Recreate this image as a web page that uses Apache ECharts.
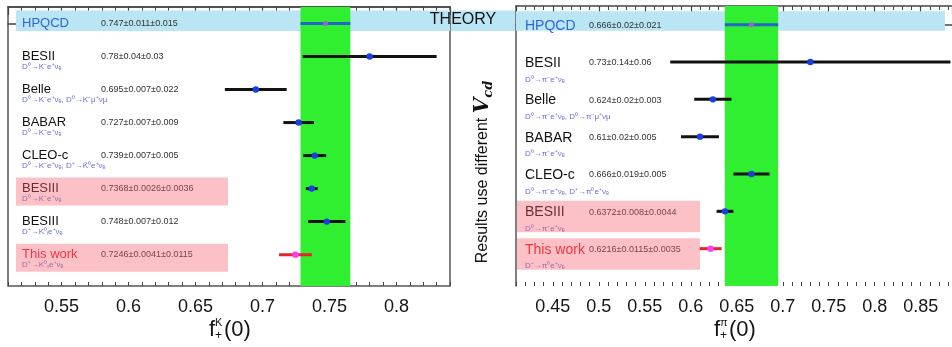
<!DOCTYPE html>
<html>
<head>
<meta charset="utf-8">
<script src="https://cdn.jsdelivr.net/npm/echarts@6/dist/echarts.min.js"></script>
<style>
  html, body { margin: 0; padding: 0; background: #fff; }
  #chart { width: 952px; height: 347px; }
</style>
</head>
<body>
<div id="chart"></div>
<script>
// f+K(0) panel
const kLabels = ['HPQCD', 'BESII', 'Belle', 'BABAR', 'CLEO-c', 'BESIII', 'BESIII', 'This work']
const kCentral = [0.747, 0.78, 0.695, 0.727, 0.739, 0.7368, 0.748, 0.7246]
const kStat = [0.011, 0.04, 0.007, 0.007, 0.007, 0.0026, 0.007, 0.0041]
const kSyst = [0.015, 0.03, 0.022, 0.009, 0.005, 0.0036, 0.012, 0.0115]
const kDecays = ['', 'D⁰→K⁻e⁺νₑ', 'D⁰→K⁻e⁺νₑ, D⁰→K⁻μ⁺νμ', 'D⁰→K⁻e⁺νₑ',
  'D⁰→K⁻e⁺νₑ, D⁺→K̄⁰e⁺νₑ', 'D⁰→K⁻e⁺νₑ', 'D⁺→K⁰ₗe⁺νₑ', 'D⁺→K⁰ₛe⁺νₑ']
const kHighlight = [5, 7]
const kRange = [0.51, 0.84]

// f+pi(0) panel
const piLabels = ['HPQCD', 'BESII', 'Belle', 'BABAR', 'CLEO-c', 'BESIII', 'This work']
const piCentral = [0.666, 0.73, 0.624, 0.61, 0.666, 0.6372, 0.6216]
const piStat = [0.02, 0.14, 0.02, 0.02, 0.019, 0.008, 0.0115]
const piSyst = [0.021, 0.06, 0.003, 0.005, 0.005, 0.0044, 0.0035]
const piDecays = ['', 'D⁰→π⁻e⁺νₑ', 'D⁰→π⁻e⁺νₑ, D⁰→π⁻μ⁺νμ', 'D⁰→π⁻e⁺νₑ',
  'D⁰→π⁻e⁺νₑ, D⁺→π⁰e⁺νₑ', 'D⁰→π⁻e⁺νₑ', 'D⁺→π⁰e⁺νₑ']
const piHighlight = [5, 6]
const piRange = [0.41, 0.884]

const FONT = '"Liberation Sans", Arial, sans-serif'
const W = 952

const panels = [
  {
    labels: kLabels, central: kCentral, stat: kStat, syst: kSyst, decays: kDecays,
    highlight: kHighlight, range: kRange, sup: 'K', yMax: 7.95, frame: true,
    grid: { left: 8, top: 7, width: 442, height: 279 },
    nameDx: 14, valueDx: 93, nameSize: 13, nameDy: 0, decayDy: 10.5,
    hlDx: 8, hlWidth: 212, hlTop: -11, hlBottom: 17,
    bandLeftPx: 8, bandRightPx: 442, bandTopPx: -13, bandBottomPx: 7.5
  },
  {
    labels: piLabels, central: piCentral, stat: piStat, syst: piSyst, decays: piDecays,
    highlight: piHighlight, range: piRange, sup: 'π', yMax: 7.0, frame: false,
    grid: { left: 516, top: 6, width: 436, height: 280 },
    nameDx: 9, valueDx: 73, nameSize: 14, nameDy: 1, decayDy: 17.5,
    hlDx: 1, hlWidth: 183, hlTop: -10.5, hlBottom: 21,
    bandLeftPx: 0, bandRightPx: 429, bandTopPx: -13.5, bandBottomPx: 6
  }
]

function totalErr(p, i) {
  return Math.sqrt(p.stat[i] * p.stat[i] + p.syst[i] * p.syst[i])
}

function xAxes(gridIndex, range) {
  const base = { type: 'value', gridIndex, min: range[0], max: range[1], splitLine: { show: false } }
  const line = { show: true, lineStyle: { color: '#444', width: 1.5 } }
  const major = { show: true, inside: true, length: 8, lineStyle: { color: '#444', width: 1.2 } }
  const minor = { show: true, inside: true, length: 4, lineStyle: { color: '#444', width: 1 } }
  return [
    { ...base, position: 'bottom', splitNumber: 7, axisLine: line, axisTick: major,
      axisLabel: { showMinLabel: false, showMaxLabel: false, margin: 12, fontSize: 18, color: '#151515', fontFamily: FONT } },
    { ...base, position: 'bottom', interval: 0.01, axisLine: { show: false }, axisTick: minor, axisLabel: { show: false } },
    { ...base, position: 'top', splitNumber: 7, axisLine: line, axisTick: major, axisLabel: { show: false } },
    { ...base, position: 'top', interval: 0.01, axisLine: { show: false }, axisTick: minor, axisLabel: { show: false } }
  ]
}

function makeRender(p) {
  return function (params, api) {
    const i = params.dataIndex
    const row = api.value(3)
    const lo = api.coord([api.value(1), row])
    const hi = api.coord([api.value(2), row])
    const c = api.coord([api.value(0), row])
    const cs = params.coordSys
    const first = i === 0
    const last = p.labels[i] === 'This work'
    const barColor = first ? '#2266c8' : last ? '#e3262c' : '#111'
    const dotColor = first ? '#9a63d6' : last ? '#ff3cf2' : '#1b3de6'
    const nameColor = first ? '#2f66d6' : last ? '#e8202c' : '#111'
    const children = [
      { type: 'text', x: cs.x + p.nameDx, y: c[1] + p.nameDy,
        style: { text: p.labels[i], fill: nameColor, font: p.nameSize + 'px ' + FONT, align: 'left', verticalAlign: 'middle' } },
      { type: 'text', x: cs.x + p.valueDx, y: c[1] + p.nameDy,
        style: { text: p.central[i] + '±' + p.stat[i] + '±' + p.syst[i], fill: '#333', font: '9px ' + FONT, align: 'left', verticalAlign: 'middle' } },
      { type: 'text', x: cs.x + p.nameDx, y: c[1] + p.decayDy,
        style: { text: p.decays[i], fill: '#6b6bd4', font: '8px ' + FONT, align: 'left', verticalAlign: 'middle' } },
      { type: 'line', shape: { x1: lo[0], y1: lo[1], x2: hi[0], y2: hi[1] }, style: { stroke: barColor, lineWidth: 3 } },
      { type: 'circle', shape: { cx: c[0], cy: c[1], r: first ? 2.5 : 3.2 }, style: { fill: dotColor } }
    ]
    if (p.highlight.includes(i)) {
      children.push({ type: 'rect',
        shape: { x: cs.x + p.hlDx, y: c[1] + p.hlTop, width: p.hlWidth, height: p.hlBottom - p.hlTop },
        style: { fill: 'rgba(246,92,104,0.38)' } })
    }
    return { type: 'group', children }
  }
}

const grids = []
const xAxis = []
const yAxis = []
const series = []
panels.forEach((p, g) => {
  grids.push({ ...p.grid, show: p.frame, borderColor: '#555', borderWidth: 1.5, backgroundColor: 'transparent' })
  xAxis.push(...xAxes(g, p.range))
  yAxis.push({
    type: 'value', gridIndex: g, min: -0.5, max: p.yMax, inverse: true, position: 'left',
    axisLine: { show: !p.frame, lineStyle: { color: '#555', width: 1.5 } },
    axisTick: { show: false }, axisLabel: { show: false }, splitLine: { show: false }
  })
  const err0 = totalErr(p, 0)
  // pixel -> data unit factors for the theory strip
  const xPx = (p.range[1] - p.range[0]) / p.grid.width
  const yPx = (p.yMax + 0.5) / p.grid.height
  series.push({
    type: 'custom',
    xAxisIndex: g * 4,
    yAxisIndex: g,
    renderItem: makeRender(p),
    data: p.labels.map((n, i) => [p.central[i], p.central[i] - totalErr(p, i), p.central[i] + totalErr(p, i), i]),
    markArea: {
      silent: true,
      data: [
        [{ xAxis: p.range[0] + p.bandLeftPx * xPx, yAxis: p.bandTopPx * yPx, itemStyle: { color: '#b9e5f5', opacity: 1 } },
         { xAxis: p.range[0] + p.bandRightPx * xPx, yAxis: p.bandBottomPx * yPx }],
        [{ xAxis: p.central[0] - err0, yAxis: -0.5, itemStyle: { color: '#30ee30', opacity: 1 } },
         { xAxis: p.central[0] + err0, yAxis: p.yMax }]
      ]
    }
  })
})

const chart = echarts.init(document.getElementById('chart'))
chart.setOption({
  animation: false,
  grid: grids,
  xAxis,
  yAxis,
  series
})

// theory strip between the panels and the side texts, placed from the axes' scales
const yUnit0 = (panels[0].yMax + 0.5) / panels[0].grid.height
const stripTop = chart.convertToPixel({ gridIndex: 0 }, [kRange[0], panels[0].bandTopPx * yUnit0])
const stripBot = chart.convertToPixel({ gridIndex: 0 }, [kRange[0], panels[0].bandBottomPx * yUnit0])
const gapL = panels[0].grid.left + panels[0].grid.width + 1
const gapR = panels[1].grid.left - 1
const graphic = [
  { type: 'rect', z: 100, shape: { x: gapL, y: stripTop[1], width: gapR - gapL, height: stripBot[1] - stripTop[1] },
    style: { fill: '#b9e5f5' } },
  { type: 'text', z: 101, x: 463, y: (stripTop[1] + stripBot[1]) / 2 - 1,
    style: { text: 'THEORY', fill: '#111', font: '16px ' + FONT, align: 'center', verticalAlign: 'middle' } },
  { type: 'text', z: 101, x: 483, y: 172, rotation: Math.PI / 2,
    style: {
      text: '{a|Results use different }{v|V}{s|cd}',
      align: 'center', verticalAlign: 'middle',
      rich: {
        a: { font: '16px ' + FONT, fill: '#111', lineHeight: 24 },
        v: { font: 'italic bold 20px "DejaVu Serif", serif', fill: '#111', lineHeight: 24 },
        s: { font: 'italic bold 13px "DejaVu Serif", serif', fill: '#111', lineHeight: 24, verticalAlign: 'bottom', padding: [8, 0, 0, 0] }
      }
    } }
]
panels.forEach(p => {
  const cx = (p.grid.left + Math.min(p.grid.left + p.grid.width, W)) / 2
  const x0 = cx - 20
  const y = 330
  graphic.push({
    type: 'group', z: 101,
    children: [
      { type: 'text', x: x0, y, style: { text: 'f', fill: '#151515', font: '22px ' + FONT, align: 'left', verticalAlign: 'middle' } },
      { type: 'text', x: x0 + 6, y: y - 7, style: { text: p.sup, fill: '#151515', font: '11px ' + FONT, align: 'left', verticalAlign: 'middle' } },
      { type: 'text', x: x0 + 6, y: y + 6, style: { text: '+', fill: '#151515', font: '12px ' + FONT, align: 'left', verticalAlign: 'middle' } },
      { type: 'text', x: x0 + 15, y, style: { text: '(0)', fill: '#151515', font: '22px ' + FONT, align: 'left', verticalAlign: 'middle' } }
    ]
  })
})
chart.setOption({ graphic })
</script>
</body>
</html>
